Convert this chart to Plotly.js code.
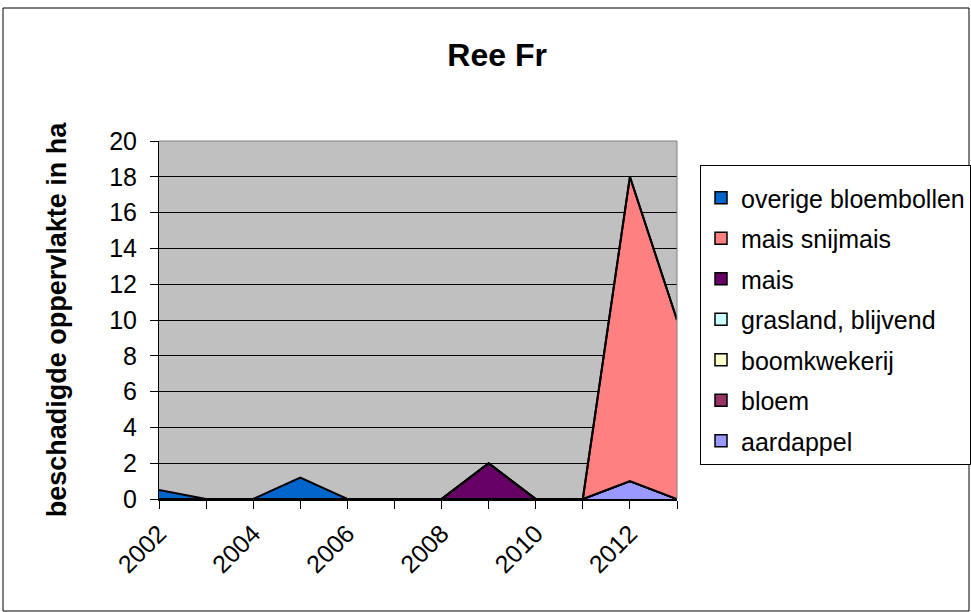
<!DOCTYPE html>
<html><head><meta charset="utf-8">
<script src="https://cdn.plot.ly/plotly-3.0.1.min.js"></script>
<style>html,body{margin:0;padding:0;background:#fff}</style>
</head><body>
<div id="chart" style="width:971px;height:612px"></div>
<script>
const years = [2002,2003,2004,2005,2006,2007,2008,2009,2010,2011,2012,2013];
const tickLabels = ["2002","","2004","","2006","","2008","","2010","","2012",""];
const seriesNames = ["aardappel","bloem","boomkwekerij","grasland, blijvend","mais","mais snijmais","overige bloembollen"];
const aardappel = [0,0,0,0,0,0,0,0,0,0,1,0];
const bloem = [0,0,0,0,0,0,0,0,0,0,0,0];
const boomkwekerij = [0,0,0,0,0,0,0,0,0,0,0,0];
const grasland = [0,0,0,0,0,0,0,0,0,0,0,0];
const mais = [0,0,0,0,0,0,0,2,0,0,0,0];
const maisSnijmais = [0,0,0,0,0,0,0,0,0,0,17,10];
const overigeBloembollen = [0.5,0,0,1.2,0,0,0,0,0,0,0,0];
const colors = ["#9999FF","#993366","#FFFFCC","#CCFFFF","#660066","#FF8080","#0066CC"];
const values = [aardappel,bloem,boomkwekerij,grasland,mais,maisSnijmais,overigeBloembollen];

const traces = values.map((v,i)=>({
  x: years, y: v, name: seriesNames[i], type:'scatter', mode:'lines',
  stackgroup:'one', showlegend:false,
  line:{color:'#000', width:2},
  fillcolor: colors[i]
}));
// legend swatches (top series first, as in the reference)
for (let i = values.length-1; i >= 0; i--) {
  traces.push({x:[null], y:[null], type:'scatter', mode:'markers', name:seriesNames[i],
    legendgroup:'g'+i, showlegend:true,
    marker:{symbol:'square', size:12, color:colors[i], line:{color:'#000', width:1.5}}});
}

const L=159, R=677, T=141, B=499;
const layout = {
  width:971, height:612,
  margin:{l:L, r:971-R, t:T, b:612-B},
  paper_bgcolor:'#fff', plot_bgcolor:'#C0C0C0',
  font:{family:'Liberation Sans, Arial, sans-serif', size:25, color:'#000'},
  title:{text:'<b>Ree Fr</b>', x:0.512, xanchor:'center', y:0.91, yanchor:'middle', font:{size:32}},
  showlegend:true,
  legend:{xref:'container', yref:'container', x:700/971, y:1-165/612, xanchor:'left', yanchor:'top',
    bordercolor:'#000', borderwidth:1, bgcolor:'#fff',
    title:{text:' ', font:{size:7}},
    traceorder:'grouped', tracegroupgap:5, font:{size:25}},
  xaxis:{range:[2002,2013], tickvals:years, ticktext:tickLabels, tickangle:-45,
    ticks:'outside', ticklen:8, tickcolor:'#000', showgrid:false, zeroline:false,
    showline:true, linecolor:'#000', linewidth:2, fixedrange:true, automargin:false},
  yaxis:{range:[0,20], dtick:2, ticks:'outside', ticklen:8, tickcolor:'#000',
    ticklabelstandoff:8,
    showgrid:true, gridcolor:'#000', gridwidth:1, zeroline:false,
    showline:true, linecolor:'#000', linewidth:1,
    title:{text:'<b>beschadigde oppervlakte in ha</b>', font:{size:27}, standoff:34},
    automargin:false},
  shapes:[
    {type:'line', xref:'paper', yref:'paper', x0:0, x1:1, y0:1, y1:1, line:{color:'#808080', width:1}},
    {type:'line', xref:'paper', yref:'paper', x0:1, x1:1, y0:0, y1:1, line:{color:'#808080', width:1}},
    {type:'rect', xref:'paper', yref:'paper', x0:(3-L)/(R-L), x1:(969-L)/(R-L), y0:(B-611)/(B-T), y1:(B-8)/(B-T), line:{color:'#000', width:1}, layer:'below'}
  ]
};
Plotly.newPlot('chart', traces, layout, {displayModeBar:false, staticPlot:true});
</script>
</body></html>
